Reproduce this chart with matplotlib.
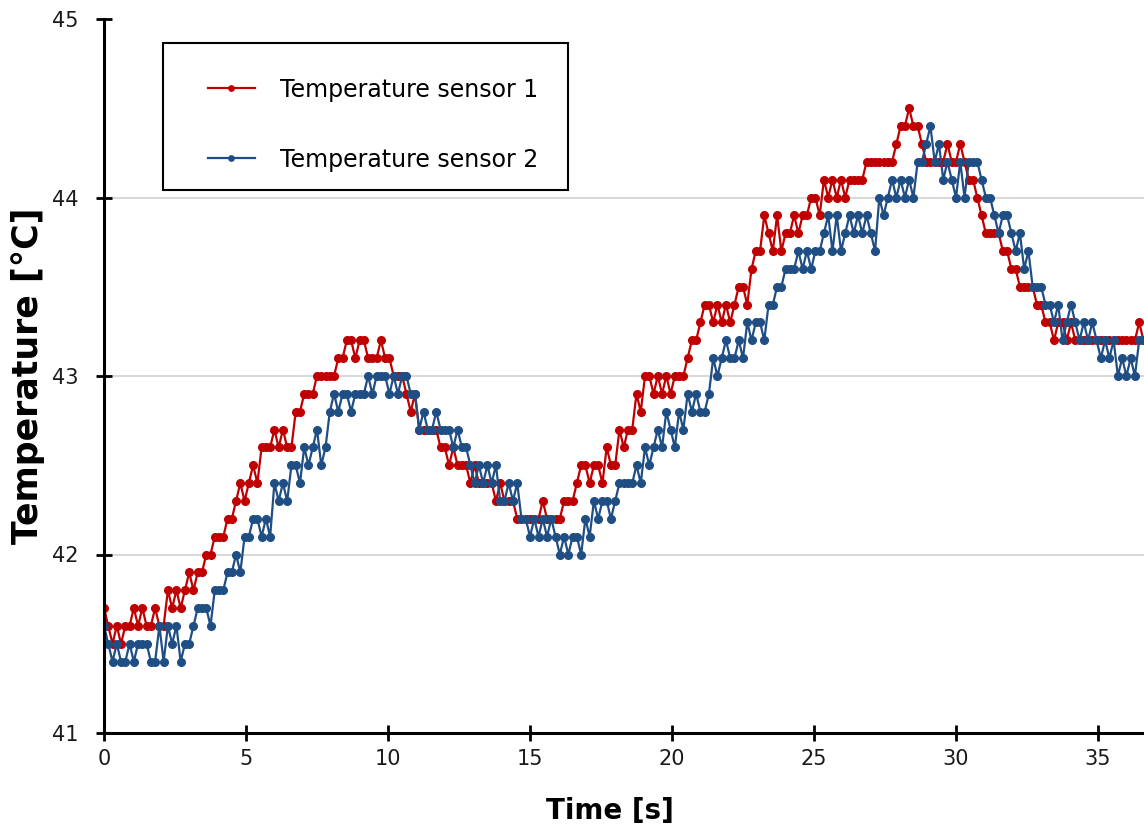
import numpy as np
import matplotlib
matplotlib.use("Agg")
import matplotlib.pyplot as plt
from matplotlib.patches import Rectangle

# one reading every 0.15 s, values in degC
sample_interval = 0.15

sensor_1 = [
    41.7, 41.6, 41.5, 41.6, 41.5, 41.6, 41.6, 41.7, 41.6, 41.7, 41.6, 41.6, 41.7, 41.6, 41.6, 41.8, 41.7, 41.8, 41.7, 41.8,
    41.9, 41.8, 41.9, 41.9, 42.0, 42.0, 42.1, 42.1, 42.1, 42.2, 42.2, 42.3, 42.4, 42.3, 42.4, 42.5, 42.4, 42.6, 42.6, 42.6,
    42.7, 42.6, 42.7, 42.6, 42.6, 42.8, 42.8, 42.9, 42.9, 42.9, 43.0, 43.0, 43.0, 43.0, 43.0, 43.1, 43.1, 43.2, 43.2, 43.1,
    43.2, 43.2, 43.1, 43.1, 43.1, 43.2, 43.1, 43.1, 43.0, 43.0, 43.0, 42.9, 42.8, 42.9, 42.7, 42.7, 42.7, 42.7, 42.7, 42.6,
    42.6, 42.5, 42.6, 42.5, 42.5, 42.5, 42.4, 42.5, 42.4, 42.4, 42.4, 42.4, 42.3, 42.4, 42.3, 42.3, 42.3, 42.2, 42.2, 42.2,
    42.2, 42.2, 42.2, 42.3, 42.2, 42.2, 42.2, 42.2, 42.3, 42.3, 42.3, 42.4, 42.5, 42.5, 42.4, 42.5, 42.5, 42.4, 42.6, 42.5,
    42.5, 42.7, 42.6, 42.7, 42.7, 42.9, 42.8, 43.0, 43.0, 42.9, 43.0, 42.9, 43.0, 42.9, 43.0, 43.0, 43.0, 43.1, 43.2, 43.2,
    43.3, 43.4, 43.4, 43.3, 43.4, 43.3, 43.4, 43.3, 43.4, 43.5, 43.5, 43.4, 43.6, 43.7, 43.7, 43.9, 43.8, 43.7, 43.9, 43.7,
    43.8, 43.8, 43.9, 43.8, 43.9, 43.9, 44.0, 44.0, 43.9, 44.1, 44.0, 44.1, 44.0, 44.1, 44.0, 44.1, 44.1, 44.1, 44.1, 44.2,
    44.2, 44.2, 44.2, 44.2, 44.2, 44.2, 44.3, 44.4, 44.4, 44.5, 44.4, 44.4, 44.3, 44.2, 44.2, 44.2, 44.2, 44.2, 44.3, 44.2,
    44.2, 44.3, 44.2, 44.1, 44.1, 44.0, 43.9, 43.8, 43.8, 43.8, 43.8, 43.7, 43.7, 43.6, 43.6, 43.5, 43.5, 43.5, 43.5, 43.4,
    43.4, 43.3, 43.3, 43.2, 43.3, 43.3, 43.2, 43.3, 43.2, 43.2, 43.2, 43.2, 43.2, 43.2, 43.2, 43.2, 43.2, 43.2, 43.2, 43.2,
    43.2, 43.2, 43.2, 43.3, 43.2,
]

sensor_2 = [
    41.6, 41.5, 41.4, 41.5, 41.4, 41.4, 41.5, 41.4, 41.5, 41.5, 41.5, 41.4, 41.4, 41.6, 41.4, 41.6, 41.5, 41.6, 41.4, 41.5,
    41.5, 41.6, 41.7, 41.7, 41.7, 41.6, 41.8, 41.8, 41.8, 41.9, 41.9, 42.0, 41.9, 42.1, 42.1, 42.2, 42.2, 42.1, 42.2, 42.1,
    42.4, 42.3, 42.4, 42.3, 42.5, 42.5, 42.4, 42.6, 42.5, 42.6, 42.7, 42.5, 42.6, 42.8, 42.9, 42.8, 42.9, 42.9, 42.8, 42.9,
    42.9, 42.9, 43.0, 42.9, 43.0, 43.0, 43.0, 42.9, 43.0, 42.9, 43.0, 43.0, 42.9, 42.9, 42.7, 42.8, 42.7, 42.7, 42.8, 42.7,
    42.7, 42.7, 42.6, 42.7, 42.6, 42.6, 42.5, 42.4, 42.5, 42.4, 42.5, 42.4, 42.5, 42.3, 42.3, 42.4, 42.3, 42.4, 42.2, 42.2,
    42.1, 42.2, 42.1, 42.2, 42.1, 42.2, 42.1, 42.0, 42.1, 42.0, 42.1, 42.1, 42.0, 42.2, 42.1, 42.3, 42.2, 42.3, 42.3, 42.2,
    42.3, 42.4, 42.4, 42.4, 42.4, 42.5, 42.4, 42.6, 42.5, 42.6, 42.7, 42.6, 42.8, 42.7, 42.6, 42.8, 42.7, 42.9, 42.8, 42.9,
    42.8, 42.8, 42.9, 43.1, 43.0, 43.1, 43.2, 43.1, 43.1, 43.2, 43.1, 43.3, 43.2, 43.3, 43.3, 43.2, 43.4, 43.4, 43.5, 43.5,
    43.6, 43.6, 43.6, 43.7, 43.6, 43.7, 43.6, 43.7, 43.7, 43.8, 43.9, 43.7, 43.9, 43.7, 43.8, 43.9, 43.8, 43.9, 43.8, 43.9,
    43.8, 43.7, 44.0, 43.9, 44.0, 44.1, 44.0, 44.1, 44.0, 44.1, 44.0, 44.2, 44.2, 44.3, 44.4, 44.2, 44.3, 44.1, 44.2, 44.1,
    44.0, 44.2, 44.0, 44.2, 44.2, 44.2, 44.1, 44.0, 44.0, 43.9, 43.8, 43.9, 43.9, 43.8, 43.7, 43.8, 43.6, 43.7, 43.5, 43.5,
    43.5, 43.4, 43.4, 43.3, 43.4, 43.2, 43.3, 43.4, 43.3, 43.2, 43.3, 43.2, 43.3, 43.2, 43.1, 43.2, 43.1, 43.2, 43.0, 43.1,
    43.0, 43.1, 43.0, 43.2, 43.2,
]

labels = ["Temperature sensor 1", "Temperature sensor 2"]
x_ticks = [0, 5, 10, 15, 20, 25, 30, 35]
y_ticks = [41, 42, 43, 44, 45]

red = "#C00000"
blue = "#1F4E85"

time_1 = np.arange(len(sensor_1)) * sample_interval
time_2 = np.arange(len(sensor_2)) * sample_interval

plt.rcParams["font.family"] = ["DejaVu Sans"]

fig = plt.figure(figsize=(11.44, 8.32), dpi=100)
# the plot area runs past the right edge, like the cropped original
ax = fig.add_axes([104 / 1144, 99 / 832, 1136 / 1144, 714 / 832])

ax.plot(time_1, sensor_1, color=red, lw=1.6, marker="o", ms=5.5, label=labels[0])
ax.plot(time_2, sensor_2, color=blue, lw=1.6, marker="o", ms=5.5, label=labels[1])

ax.set_xlim(0, 40)
ax.set_ylim(41, 45)
ax.set_xticks(x_ticks)
ax.set_yticks(y_ticks)

ax.grid(axis="y", color="#D9D9D9", lw=1.5)
ax.set_axisbelow(True)
ax.get_ygridlines()[-1].set_visible(False)

for side in ["top", "right"]:
    ax.spines[side].set_visible(False)
for side in ["left", "bottom"]:
    ax.spines[side].set_linewidth(2.2)
    ax.spines[side].set_color("black")

ax.tick_params(direction="inout", length=11, width=2, labelsize=15, labelcolor="#1a1a1a")
ax.tick_params(axis="x", pad=6)
ax.tick_params(axis="y", pad=13)

ax.set_xlabel("Time [s]", fontsize=20, fontweight="bold")
ax.set_ylabel("Temperature [°C]", fontsize=25, fontweight="bold")
ax.xaxis.set_label_coords(0.445, -0.09)
ax.yaxis.set_label_coords(-0.052, 0.501)

# legend box drawn separately: the original has a wider left margin than right
box = Rectangle((0.0519, 0.7605), 0.3566, 0.2059, transform=ax.transAxes,
                facecolor="white", edgecolor="black", lw=1.5, zorder=4)
ax.add_patch(box)

leg = ax.legend(loc="upper left", bbox_to_anchor=(0.0643, 0.9608), borderaxespad=0,
                fontsize=17, handlelength=2.0, handletextpad=1.05, borderpad=1.3,
                labelspacing=1.95, markerscale=0.7)
leg.get_frame().set_visible(False)
leg.set_zorder(5)

fig.savefig("out.png", dpi=100)
